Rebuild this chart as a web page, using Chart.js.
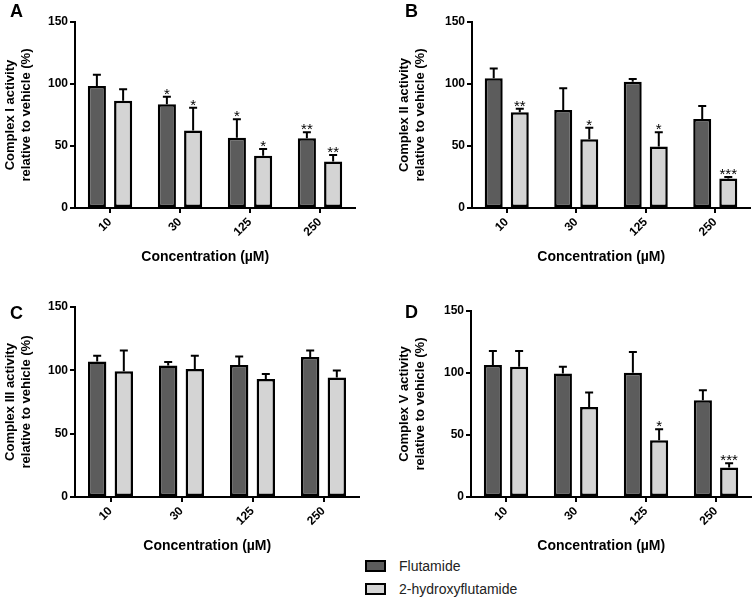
<!DOCTYPE html>
<html>
<head>
<meta charset="utf-8">
<script src="https://cdn.jsdelivr.net/npm/chart.js@4.4.1/dist/chart.umd.min.js"></script>
<style>
  body { margin: 0; background: #fff; }
  #wrap { position: relative; width: 755px; height: 599px; font-family: "Liberation Sans", Arial, sans-serif; }
  canvas { position: absolute; }
  .key { position: absolute; left: 365px; height: 12px; font-size: 14px; color: #222; white-space: nowrap; }
  .key span { position: absolute; left: 0; top: 0; width: 21px; height: 12px; border: 2px solid #000; box-sizing: border-box; }
  .key b { position: absolute; left: 34px; top: -2px; font-weight: normal; line-height: 16px; }
</style>
</head>
<body>
<div id="wrap">
  <canvas id="panelA" width="365" height="266" style="left:0;top:0"></canvas>
  <canvas id="panelB" width="361" height="266" style="left:394px;top:0"></canvas>
  <canvas id="panelC" width="369" height="275" style="left:0;top:280px"></canvas>
  <canvas id="panelD" width="361" height="275" style="left:394px;top:280px"></canvas>
</div>
<script>
const concentrations = ['10', '30', '125', '250'];
const seriesNames = ['Flutamide', '2-hydroxyflutamide'];
const seriesColors = ['#5c5c5c', '#d4d4d4'];
const yTicks = [0, 50, 100, 150];

// Complex I
const c1Flut = [98.4, 83.6, 56.7, 56.2];
const c1FlutErr = [9, 6.2, 14.8, 4.8];
const c1Hyd = [86.5, 62.4, 42.2, 37.4];
const c1HydErr = [9.2, 18.5, 5.4, 5.3];
const c1FlutStars = ['', '*', '*', '**'];
const c1HydStars = ['', '*', '*', '**'];

// Complex II
const c2Flut = [104.6, 79, 101.9, 71.8];
const c2FlutErr = [8, 17.5, 2.1, 10.5];
const c2Hyd = [77.2, 55.4, 49.5, 23.7];
const c2HydErr = [2.9, 9.4, 11.5, 1.3];
const c2FlutStars = ['', '', '', ''];
const c2HydStars = ['**', '*', '*', '***'];

// Complex III
const c3Flut = [107, 103.9, 104.2, 110.5];
const c3FlutErr = [4.5, 2.7, 6.8, 5.2];
const c3Hyd = [99.2, 101, 93.1, 94.4];
const c3HydErr = [16.5, 10.5, 4, 5.5];
const c3FlutStars = ['', '', '', ''];
const c3HydStars = ['', '', '', ''];

// Complex V
const c5Flut = [106.5, 99.5, 100.3, 78];
const c5FlutErr = [11.2, 5.6, 16.6, 8];
const c5Hyd = [105.1, 72.6, 45.7, 23.7];
const c5HydErr = [12.6, 11.6, 8.9, 3.5];
const c5FlutStars = ['', '', '', ''];
const c5HydStars = ['', '', '*', '***'];

Chart.defaults.font.family = '"Liberation Sans", Arial, sans-serif';
Chart.defaults.color = '#000';

// mean + SEM caps and significance stars on top of each bar
const errorBars = {
  id: 'errorBars',
  afterDatasetsDraw(chart) {
    const ctx = chart.ctx;
    const y = chart.scales.y;
    chart.data.datasets.forEach((ds, i) => {
      chart.getDatasetMeta(i).data.forEach((bar, j) => {
        const top = y.getPixelForValue(ds.data[j] + ds.err[j]);
        ctx.save();
        ctx.strokeStyle = '#000';
        ctx.lineWidth = 2;
        ctx.beginPath();
        ctx.moveTo(bar.x, bar.y);
        ctx.lineTo(bar.x, top);
        ctx.moveTo(bar.x - 4, top);
        ctx.lineTo(bar.x + 4, top);
        ctx.stroke();
        if (ds.stars[j]) {
          ctx.fillStyle = '#000';
          ctx.font = '15px "Liberation Sans", Arial, sans-serif';
          ctx.textAlign = 'center';
          ctx.fillText(ds.stars[j], bar.x, top + 2);
        }
        ctx.restore();
      });
    });
  }
};

function makePanel(id, p) {
  const letter = {
    id: 'letter',
    afterDraw(chart) {
      const ctx = chart.ctx;
      ctx.save();
      ctx.font = 'bold 18px "Liberation Sans", Arial, sans-serif';
      ctx.fillStyle = '#000';
      ctx.fillText(p.letter, p.letterX, p.letterY);
      ctx.restore();
    }
  };

  const mk = (k) => ({
    label: seriesNames[k],
    data: k ? p.hyd : p.flut,
    err: k ? p.hydErr : p.flutErr,
    stars: k ? p.hydStars : p.flutStars,
    backgroundColor: seriesColors[k],
    borderColor: '#000',
    borderWidth: 2.5,
    borderSkipped: false,
    categoryPercentage: 0.75,
    barPercentage: 0.69
  });

  new Chart(document.getElementById(id), {
    type: 'bar',
    data: { labels: concentrations, datasets: [mk(0), mk(1)] },
    options: {
      responsive: false,
      animation: false,
      devicePixelRatio: 1,
      layout: { padding: { top: p.padTop, right: p.padRight, left: 0, bottom: 0 } },
      plugins: { legend: { display: false }, tooltip: { enabled: false } },
      scales: {
        x: {
          grid: { display: true, offset: false, drawOnChartArea: false, drawTicks: true, tickLength: 5, color: '#000', lineWidth: 2 },
          border: { display: true, color: '#000', width: 2 },
          ticks: { maxRotation: 45, minRotation: 45, padding: 2, font: { size: 12, weight: 'bold' } },
          title: { display: true, text: 'Concentration (µM)\u00a0\u00a0\u00a0\u00a0\u00a0', font: { size: 14, weight: 'bold' }, padding: 0 },
          afterFit(scale) { scale.height = 58; }
        },
        y: {
          min: 0,
          max: 150,
          afterBuildTicks(scale) { scale.ticks = yTicks.map(v => ({ value: v })); },
          grid: { display: true, drawOnChartArea: false, drawTicks: true, tickLength: 5, color: '#000', lineWidth: 2 },
          border: { display: true, color: '#000', width: 2 },
          ticks: { padding: 2, font: { size: 12, weight: 'bold' } },
          title: { display: true, text: p.yTitle, font: { size: 13, weight: 'bold' }, padding: { top: 3, bottom: 0 } },
          afterFit(scale) { scale.width = p.axisWidth; }
        }
      }
    },
    plugins: [errorBars, letter]
  });
}

makePanel('panelA', {
  letter: 'A', letterX: 10, letterY: 17,
  yTitle: ['Complex I activity', 'relative to vehicle (%)'],
  flut: c1Flut, flutErr: c1FlutErr, hyd: c1Hyd, hydErr: c1HydErr,
  flutStars: c1FlutStars, hydStars: c1HydStars,
  axisWidth: 75, padTop: 22, padRight: 10
});
makePanel('panelB', {
  letter: 'B', letterX: 11, letterY: 17,
  yTitle: ['Complex II activity', 'relative to vehicle (%)'],
  flut: c2Flut, flutErr: c2FlutErr, hyd: c2Hyd, hydErr: c2HydErr,
  flutStars: c2FlutStars, hydStars: c2HydStars,
  axisWidth: 78, padTop: 22, padRight: 5
});
makePanel('panelC', {
  letter: 'C', letterX: 10, letterY: 39,
  yTitle: ['Complex III activity', 'relative to vehicle (%)'],
  flut: c3Flut, flutErr: c3FlutErr, hyd: c3Hyd, hydErr: c3HydErr,
  flutStars: c3FlutStars, hydStars: c3HydStars,
  axisWidth: 75, padTop: 27, padRight: 10
});
makePanel('panelD', {
  letter: 'D', letterX: 11, letterY: 38,
  yTitle: ['Complex V activity', 'relative to vehicle (%)'],
  flut: c5Flut, flutErr: c5FlutErr, hyd: c5Hyd, hydErr: c5HydErr,
  flutStars: c5FlutStars, hydStars: c5HydStars,
  axisWidth: 77, padTop: 31, padRight: 4
});

// shared legend under the panels
const wrap = document.getElementById('wrap');
seriesNames.forEach((name, k) => {
  const row = document.createElement('div');
  row.className = 'key';
  row.style.top = (560 + k * 23) + 'px';
  row.innerHTML = '<span style="background:' + seriesColors[k] + '"></span><b>' + name + '</b>';
  wrap.appendChild(row);
});
</script>
</body>
</html>
